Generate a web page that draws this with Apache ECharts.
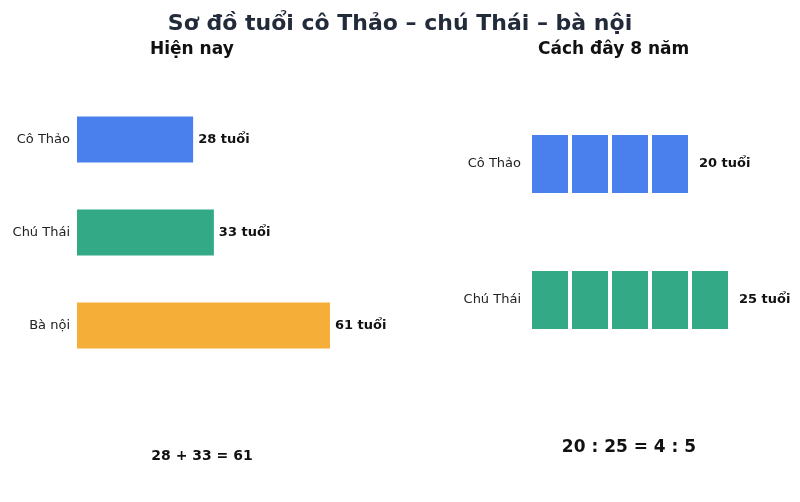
<!DOCTYPE html>
<html><head><meta charset="utf-8">
<script src="https://cdn.jsdelivr.net/npm/echarts@6/dist/echarts.min.js"></script>
<style>html,body{margin:0;padding:0;background:#fff}#c{width:800px;height:502px}</style>
</head><body><div id="c"></div>
<script>
const nowNames = ['Cô Thảo', 'Chú Thái', 'Bà nội'];
const nowAges = [28, 33, 61];
const nowColors = ['#4a80ee', '#33a985', '#f5ae38'];
const pastNames = ['Cô Thảo', 'Chú Thái'];
const pastAges = [20, 25];
const pastColors = ['#4a80ee', '#33a985'];
const blockSize = 5;
const maxBlocks = 5;

const font = 'DejaVu Sans';
const pastSeries = [];
for (let i = 0; i < maxBlocks; i++) {
  pastSeries.push({
    type: 'bar', xAxisIndex: 1, yAxisIndex: 1, stack: 'p', barWidth: 62,
    data: pastAges.map((a, j) => ({
      value: (i + 1) * blockSize <= a ? blockSize : 0,
      itemStyle: { color: pastColors[j], borderColor: '#fff', borderWidth: 2 }
    }))
  });
}
pastSeries.push({
  type: 'bar', xAxisIndex: 1, yAxisIndex: 1, stack: 'p', barWidth: 62,
  data: pastAges.map(() => 0),
  label: { show: true, position: 'right', distance: 9, fontFamily: font, fontWeight: 'bold', fontSize: 13, color: '#111',
    formatter: p => pastAges[p.dataIndex] + ' tuổi' }
});

const chart = echarts.init(document.getElementById('c'));
chart.setOption({
  animation: false,
  title: [
    { text: 'Sơ đồ tuổi cô Thảo – chú Thái – bà nội', left: 'center', top: 8, textStyle: { fontFamily: font, fontSize: 22, fontWeight: 'bold', color: '#222b3a' } },
    { text: 'Hiện nay', left: 145, top: 36, textStyle: { fontFamily: font, fontSize: 17, fontWeight: 'bold', color: '#111' } },
    { text: 'Cách đây 8 năm', left: 533, top: 36, textStyle: { fontFamily: font, fontSize: 17, fontWeight: 'bold', color: '#111' } },
    { text: '28 + 33 = 61', left: 197, top: 444, textAlign: 'center', textStyle: { fontFamily: font, fontSize: 14, fontWeight: 'bold', color: '#111' } },
    { text: '20 : 25 = 4 : 5', left: 624, top: 434, textAlign: 'center', textStyle: { fontFamily: font, fontSize: 17, fontWeight: 'bold', color: '#111' } }
  ],
  grid: [
    { left: 77, width: 253, top: 93, height: 279 },
    { left: 530, width: 200, top: 96, height: 272 }
  ],
  xAxis: [
    { gridIndex: 0, type: 'value', min: 0, max: 61, show: false },
    { gridIndex: 1, type: 'value', min: 0, max: 25, show: false }
  ],
  yAxis: [
    { gridIndex: 0, type: 'category', inverse: true, data: nowNames, axisLine: { show: false }, axisTick: { show: false },
      axisLabel: { fontFamily: font, fontSize: 13, color: '#222', margin: 7 } },
    { gridIndex: 1, type: 'category', inverse: true, data: pastNames, axisLine: { show: false }, axisTick: { show: false },
      axisLabel: { fontFamily: font, fontSize: 13, color: '#222', margin: 9 } }
  ],
  series: [
    { type: 'bar', xAxisIndex: 0, yAxisIndex: 0, barWidth: 46,
      data: nowAges.map((a, j) => ({ value: a, itemStyle: { color: nowColors[j] } })),
      label: { show: true, position: 'right', distance: 5, fontFamily: font, fontWeight: 'bold', fontSize: 13, color: '#111', formatter: p => p.value + ' tuổi' } }
  ].concat(pastSeries)
});
</script></body></html>
